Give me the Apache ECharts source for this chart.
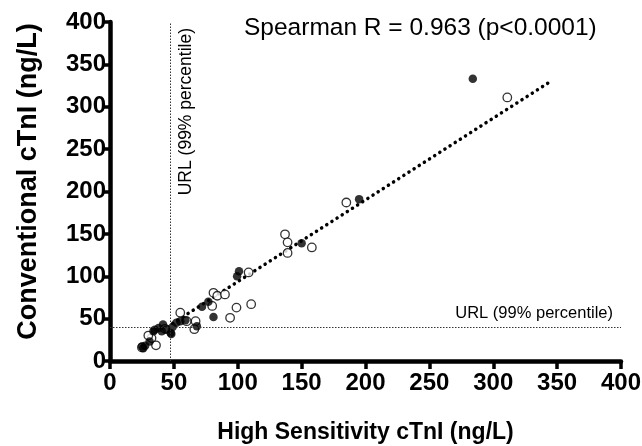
<!DOCTYPE html>
<html><head><meta charset="utf-8">
<script src="https://cdn.jsdelivr.net/npm/echarts@6/dist/echarts.min.js"></script>
<style>html,body{margin:0;padding:0;background:#fff}#c{width:642px;height:446px}</style>
</head><body><div id="c"></div>
<script>
// High sensitivity cTnI (x) vs conventional cTnI (y), ng/L
const filledX = [284, 195, 150, 101, 99.5, 81, 77, 72, 68, 59, 55, 52, 49, 47.5, 41.5, 40.5, 44, 35, 34, 31, 25, 26, 27.5, 48, 38];
const filledY = [333, 191, 139, 106, 100, 52, 70, 64, 41, 48, 47, 45, 40, 33, 43, 35, 37, 37, 35, 23, 17, 15, 18, 32, 39];
const openX = [311, 185, 137, 139, 139, 158, 108.5, 81, 84, 90, 80, 99, 110.5, 94, 55, 67, 66, 36, 32.5, 25, 60, 43, 30];
const openY = [311, 187, 149.5, 140, 127.5, 134, 104.5, 80.5, 77, 78.5, 65, 63, 67, 51, 57, 47, 37.5, 18.5, 27, 16, 47, 38, 30];
const fitX = [45, 345];
const fitY = [40.5, 330];
const urlHS = 47.5;
const urlConv = 40;
const xTicks = [0, 50, 100, 150, 200, 250, 300, 350, 400];
const yTicks = [0, 50, 100, 150, 200, 250, 300, 350, 400];
const annotation = 'Spearman R = 0.963 (p<0.0001)';
const urlLabel = 'URL (99% percentile)';

const zip = (a, b) => a.map((v, i) => [v, b[i]]);
const chart = echarts.init(document.getElementById('c'));
const axisCommon = {
  type: 'value', min: xTicks[0], max: xTicks[xTicks.length - 1], interval: 50,
  axisLine: {show: true, lineStyle: {color: '#000', width: 4.5}},
  axisTick: {show: true, length: 8, lineStyle: {color: '#000', width: 3.5}},
  splitLine: {show: false},
  axisLabel: {color: '#000', fontFamily: 'Liberation Sans', fontWeight: 'bold', fontSize: 24},
  nameLocation: 'middle',
  nameTextStyle: {color: '#000', fontFamily: 'Liberation Sans', fontWeight: 'bold', fontSize: 23}
};
chart.setOption({
  animation: false,
  grid: {left: 110, right: 21, top: 22, bottom: 85, containLabel: false, outerBoundsMode: 'none'},
  title: {text: annotation, left: 239, top: 11,
    textStyle: {fontFamily: 'Liberation Sans', fontWeight: 'normal', fontSize: 24.5, color: '#000'}},
  xAxis: Object.assign({}, axisCommon, {name: 'High Sensitivity cTnI (ng/L)', nameGap: 60,
    axisLabel: Object.assign({}, axisCommon.axisLabel, {margin: 10})}),
  yAxis: Object.assign({}, axisCommon, {min: yTicks[0], max: yTicks[yTicks.length - 1],
    name: 'Conventional cTnI (ng/L)', nameGap: 68,
    nameTextStyle: Object.assign({}, axisCommon.nameTextStyle, {fontSize: 27, padding: [0, 0, 0, 20]}),
    axisLabel: Object.assign({}, axisCommon.axisLabel, {margin: 4})}),
  series: [
    {type: 'line', data: zip(fitX, fitY), symbol: 'none', silent: true, z: 1,
     lineStyle: {color: '#000', width: 3.5, type: [0.1, 6], cap: 'round'},
     markLine: {symbol: 'none', silent: true, animation: false,
       lineStyle: {color: '#333', width: 1, type: [1.5, 1.5]},
       label: {color: '#000', fontFamily: 'Liberation Sans', formatter: urlLabel},
       data: [
         {xAxis: urlHS, label: {position: 'insideEndBottom', fontSize: 17.5, distance: 6}},
         {yAxis: urlConv, label: {position: 'insideEndTop', fontSize: 16.5, distance: [8, 5]}}
       ]}},
    {type: 'scatter', data: zip(openX, openY), symbol: 'circle', symbolSize: 8.5, z: 2,
     itemStyle: {color: '#fff', borderColor: '#000', borderWidth: 1.3}},
    {type: 'scatter', data: zip(filledX, filledY), symbol: 'circle', symbolSize: 8.5, z: 3,
     itemStyle: {color: '#000'}}
  ]
});
</script></body></html>
